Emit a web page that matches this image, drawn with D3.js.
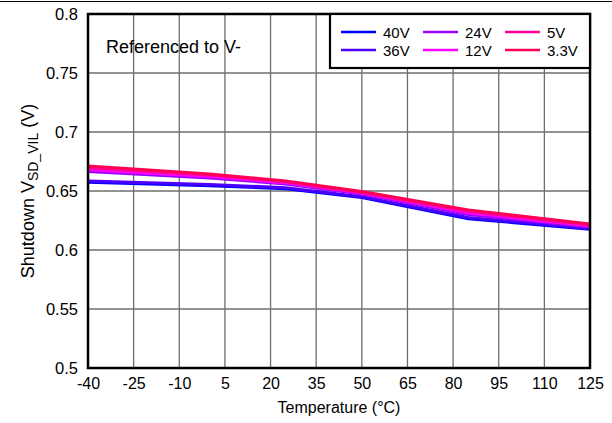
<!DOCTYPE html>
<html>
<head>
<meta charset="utf-8">
<script src="https://cdn.jsdelivr.net/npm/d3@7"></script>
<style>
  body { margin: 0; background: #fff; }
  text { font-family: "Liberation Sans", Arial, sans-serif; fill: #000; }
</style>
</head>
<body>
<div id="chart-area"></div>
<script>
// data
const temps = [-40, 0, 25, 50, 85, 125]
const seriesNames = ["40V", "36V", "24V", "12V", "5V", "3.3V"]
const seriesColors = ["#0000ff", "#4b00ff", "#9900ff", "#ff00ff", "#ff0099", "#ff0055"]
const v40 = [0.6575, 0.6545, 0.652, 0.6445, 0.6265, 0.6175]
const v36 = [0.6585, 0.6555, 0.6528, 0.6452, 0.6275, 0.6183]
const v24 = [0.6665, 0.661, 0.656, 0.6475, 0.6300, 0.6195]
const v12 = [0.668, 0.6622, 0.657, 0.6482, 0.6315, 0.6203]
const v5 = [0.6698, 0.6635, 0.6578, 0.6488, 0.6328, 0.6212]
const v33 = [0.6712, 0.6645, 0.6585, 0.6495, 0.634, 0.622]
const xTicks = [-40, -25, -10, 5, 20, 35, 50, 65, 80, 95, 110, 125]
const yTicks = [0.5, 0.55, 0.6, 0.65, 0.7, 0.75, 0.8]

const allSeries = [v40, v36, v24, v12, v5, v33]

const MARGIN = {LEFT: 88, TOP: 14, RIGHT: 22, BOTTOM: 55}
const WIDTH = 612 - MARGIN.LEFT - MARGIN.RIGHT
const HEIGHT = 423 - MARGIN.TOP - MARGIN.BOTTOM

const svg = d3.select("#chart-area").append("svg")
    .attr("width", 612)
    .attr("height", 423)

// header rule across the page
svg.append("line")
    .attr("x1", 0).attr("x2", 612)
    .attr("y1", 1.5).attr("y2", 1.5)
    .attr("stroke", "#000").attr("stroke-width", 1.2)

const g = svg.append("g")
    .attr("transform", `translate(${MARGIN.LEFT}, ${MARGIN.TOP})`)

const x = d3.scaleLinear().domain([-40, 125]).range([0, WIDTH])
const y = d3.scaleLinear().domain([0.5, 0.8]).range([HEIGHT, 0])

// grid
g.selectAll(".vgrid")
    .data(xTicks.slice(1, -1))
    .enter().append("line")
    .attr("class", "vgrid")
    .attr("x1", d => x(d)).attr("x2", d => x(d))
    .attr("y1", 0).attr("y2", HEIGHT)
    .attr("stroke", "#6e6e6e").attr("stroke-width", 1.3)

g.selectAll(".hgrid")
    .data(yTicks.slice(1, -1))
    .enter().append("line")
    .attr("class", "hgrid")
    .attr("x1", 0).attr("x2", WIDTH)
    .attr("y1", d => y(d)).attr("y2", d => y(d))
    .attr("stroke", "#6e6e6e").attr("stroke-width", 1.3)

// axes (labels only, frame drawn separately)
const xAxisCall = d3.axisBottom(x)
    .tickValues(xTicks)
    .tickSize(0)
    .tickPadding(10)
    .tickFormat(d => String(d))
const xAxis = g.append("g")
    .attr("transform", `translate(0, ${HEIGHT})`)
    .call(xAxisCall)
xAxis.select(".domain").remove()
xAxis.selectAll("text").attr("font-size", "16px").attr("font-family", null)

const yAxisCall = d3.axisLeft(y)
    .tickValues(yTicks)
    .tickSize(0)
    .tickPadding(10)
    .tickFormat(d => String(+d.toFixed(2)))
const yAxis = g.append("g").call(yAxisCall)
yAxis.select(".domain").remove()
yAxis.selectAll("text").attr("font-size", "16.5px").attr("font-family", null)

// lines
const line = d3.line()
    .x((d, i) => x(temps[i]))
    .y(d => y(d))

g.selectAll(".series")
    .data(allSeries)
    .enter().append("path")
    .attr("class", "series")
    .attr("d", d => line(d))
    .attr("fill", "none")
    .attr("stroke", (d, i) => seriesColors[i])
    .attr("stroke-width", 3)

// frame
g.append("rect")
    .attr("width", WIDTH).attr("height", HEIGHT)
    .attr("fill", "none")
    .attr("stroke", "#000").attr("stroke-width", 2.5)

// annotation
g.append("text")
    .attr("x", 18).attr("y", 39)
    .attr("font-size", "18px")
    .text("Referenced to V-")

// legend
const legend = g.append("g")
legend.append("rect")
    .attr("x", 242).attr("y", 0)
    .attr("width", WIDTH - 242).attr("height", 54)
    .attr("fill", "#fff")
    .attr("stroke", "#000").attr("stroke-width", 2.2)

const legendItems = legend.selectAll(".item")
    .data(seriesNames)
    .enter().append("g")
    .attr("class", "item")
    .attr("transform", (d, i) => `translate(${253 + Math.floor(i / 2) * 82}, ${i % 2 === 0 ? 18 : 36})`)
legendItems.append("line")
    .attr("x1", 0).attr("x2", 35)
    .attr("stroke", (d, i) => seriesColors[i])
    .attr("stroke-width", 2.5)
legendItems.append("text")
    .attr("x", 42).attr("y", 5.5)
    .attr("font-size", "15px")
    .text(d => d)

// axis titles
g.append("text")
    .attr("x", WIDTH / 2)
    .attr("y", HEIGHT + 45)
    .attr("font-size", "16px")
    .attr("text-anchor", "middle")
    .text("Temperature (°C)")

const yl = g.append("text")
    .attr("transform", "rotate(-90)")
    .attr("x", -HEIGHT / 2)
    .attr("y", -54)
    .attr("font-size", "18px")
    .attr("text-anchor", "middle")
yl.append("tspan").text("Shutdown V")
yl.append("tspan").attr("font-size", "14px").attr("dy", 4).text("SD_VIL")
yl.append("tspan").attr("dy", -4).text(" (V)")
</script>
</body>
</html>
